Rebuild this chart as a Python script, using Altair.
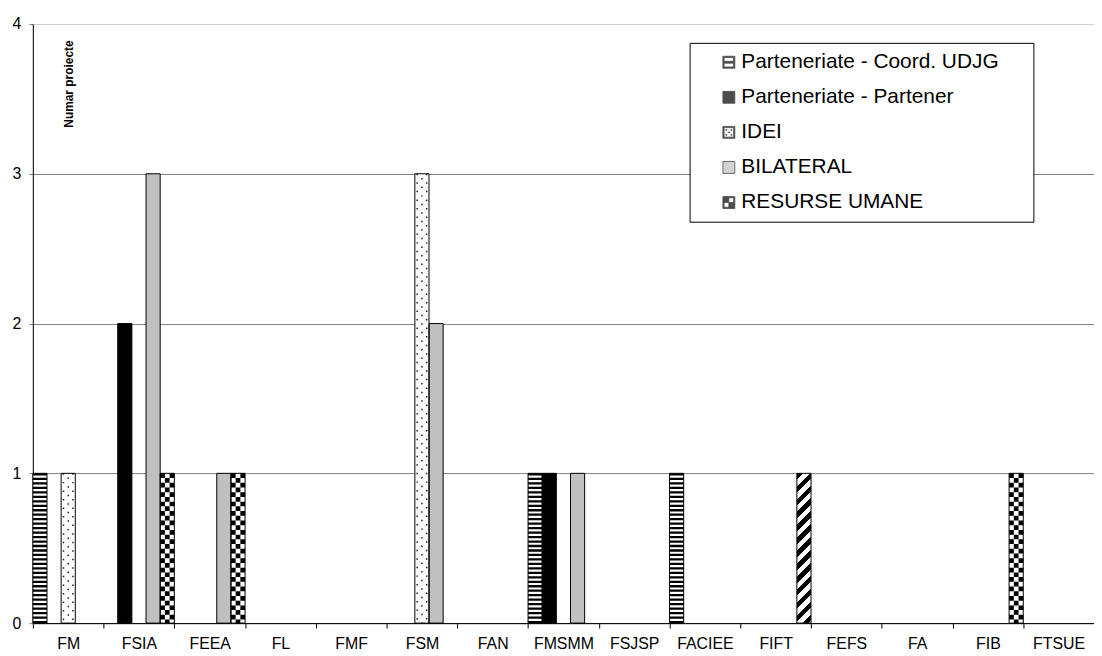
import altair as alt
import pandas as pd

# ---------------- data ----------------
categories = ["FM", "FSIA", "FEEA", "FL", "FMF", "FSM", "FAN", "FMSMM",
              "FSJSP", "FACIEE", "FIFT", "FEFS", "FA", "FIB", "FTSUE"]
series = ["Parteneriate - Coord. UDJG", "Parteneriate - Partener", "IDEI",
          "BILATERAL", "RESURSE UMANE"]

coord_udjg = [1, 0, 0, 0, 0, 0, 0, 1, 0, 1, 0, 0, 0, 0, 0]
partener   = [0, 2, 0, 0, 0, 0, 0, 1, 0, 0, 0, 0, 0, 0, 0]
idei       = [1, 0, 0, 0, 0, 3, 0, 0, 0, 0, 0, 0, 0, 0, 0]
bilateral  = [0, 3, 1, 0, 0, 2, 0, 1, 0, 0, 0, 0, 0, 0, 0]
resurse    = [0, 1, 1, 0, 0, 0, 0, 0, 0, 0, 1, 0, 0, 1, 0]

y_ticks = [0, 1, 2, 3, 4]

# ---------------- styles ----------------
series_pattern = {series[0]: "hstripe", series[1]: "solid", series[2]: "dots",
                  series[3]: "solid", series[4]: "checker"}
pattern_override = {("FIFT", "RESURSE UMANE"): "diag"}
base_fill = ["white", "black", "white", "#c0c0c0", "white"]
legend_color = ["black", "black", "black", "#c0c0c0", "black"]
legend_paths = [
    "M-1,-1H1V1H-1Z M-0.8,-0.8V0.8H0.8V-0.8Z M-0.8,-0.15H0.8V0.15H-0.8Z",
    "M-1,-1H1V1H-1Z",
    "M-1,-1H1V1H-1Z M-0.8,-0.8V0.8H0.8V-0.8Z "
    "M-0.5,-0.5h0.16v0.16h-0.16Z M0.34,-0.5h0.16v0.16h-0.16Z "
    "M-0.08,-0.08h0.16v0.16h-0.16Z M-0.5,0.34h0.16v0.16h-0.16Z "
    "M0.34,0.34h0.16v0.16h-0.16Z",
    "M-1,-1H1V1H-1Z",
    "M-1,-1H1V1H-1Z M-0.8,-0.8V0.8H0.8V-0.8Z "
    "M-0.8,-0.8H0V0H-0.8Z M0,0H0.8V0.8H0Z",
]

FONT = "Liberation Sans"
W, H = 1068, 603
YMAX = 4
NSUB = 3
sw = W / len(categories) / len(series)     # width of one bar
cw = sw / NSUB                              # width of one pattern column
sub_domain = [f"{s}|{c}" for s in series for c in range(NSUB)]

rows = []
for s, vals in zip(series, [coord_udjg, partener, idei, bilateral, resurse]):
    for c, v in zip(categories, vals):
        if v > 0:
            rows.append({"cat": c, "series": s, "value": v,
                         "pattern": pattern_override.get((c, s), series_pattern[s])})
df = pd.DataFrame(rows)

fill_expr = "".join(f"datum.series == '{s}' ? '{f}' : " for s, f in zip(series, base_fill)) + "'white'"

x_enc = alt.X("cat:N", sort=categories,
              scale=alt.Scale(domain=categories, paddingInner=0, paddingOuter=0),
              axis=alt.Axis(title=None, labelFontSize=16, labelColor="black",
                            labelFont=FONT, tickBand="extent", tickSize=5,
                            tickColor="black", domainColor="black",
                            labelPadding=8, labelAngle=0, grid=False))
xo_enc = alt.XOffset("series:N",
                     scale=alt.Scale(domain=series, paddingInner=0, paddingOuter=0))
xo_sub = alt.XOffset("sub:N",
                     scale=alt.Scale(domain=sub_domain, paddingInner=0, paddingOuter=0))
y_enc = alt.Y("value:Q",
              scale=alt.Scale(domain=[0, YMAX], nice=False, zero=True),
              axis=alt.Axis(values=y_ticks, format="d", title="Numar proiecte",
                            titleAngle=270, titleX=40, titleY=16,
                            titleAlign="right", titleBaseline="alphabetic",
                            titleFontSize=12, titleFontWeight="bold",
                            titleFont=FONT, titleColor="black",
                            labelFontSize=16, labelFont=FONT, labelColor="black",
                            labelPadding=8, tickSize=4, tickColor="#808080",
                            domainColor="black", grid=True,
                            gridColor={"condition": {"test": "datum.value == 4",
                                                     "value": "#d0d0d0"},
                                       "value": "#808080"},
                            gridWidth=1))
y2_enc = alt.Y2(datum=0)

base = alt.Chart(df)

fill_layer = base.transform_filter("datum.pattern != 'diag'").transform_calculate(
    fillc=fill_expr).mark_bar(strokeWidth=0).encode(
    x=x_enc, xOffset=xo_enc, y=y_enc,
    fill=alt.Fill("fillc:N", scale=None),
)

# diagonal stripes via a hard-stop gradient (stripes at 45 degrees)
bw, bh = sw, H / YMAX
period = 13.0
tot = bw + bh
stops = []
k = 0
while k * period < tot:
    a = k * period / tot
    b = min((k * period + period / 2) / tot, 1)
    c = min(((k + 1) * period) / tot, 1)
    stops += [{"offset": a, "color": "black"}, {"offset": b, "color": "black"},
              {"offset": b, "color": "white"}, {"offset": c, "color": "white"}]
    k += 1
grad = {"gradient": "linear", "x1": 0, "y1": 0,
        "x2": tot * bw / (bw ** 2 + bh ** 2), "y2": tot * bh / (bw ** 2 + bh ** 2),
        "stops": stops}
diag_layer = base.transform_filter("datum.pattern == 'diag'").mark_bar(
    fill=grad, strokeWidth=0).encode(x=x_enc, xOffset=xo_enc, y=y_enc)

# horizontal stripes: one thick dashed rule per bar
stripe_layer = base.transform_filter("datum.pattern == 'hstripe'").mark_rule(
    color="black", strokeWidth=sw, strokeDash=[2.3, 2.2], strokeCap="butt").encode(
    x=x_enc, xOffset=xo_enc, y=y_enc, y2=y2_enc)


def column_layer(pattern, col, width, dash, dash_off, color="black"):
    return base.transform_filter(f"datum.pattern == '{pattern}'").transform_calculate(
        sub=f"datum.series + '|{col}'").mark_rule(
        color=color, strokeWidth=width, strokeDash=dash, strokeDashOffset=dash_off,
        strokeCap="butt").encode(x=x_enc, xOffset=xo_sub, y=y_enc, y2=y2_enc)


dot_layers = [
    column_layer("dots", 0, 1.5, [1.5, 7.1], 0, "#222222"),
    column_layer("dots", 1, 1.5, [1.5, 7.1], 4.3, "#222222"),
    column_layer("dots", 2, 1.5, [1.5, 7.1], 0, "#222222"),
]
checker_layers = [
    column_layer("checker", 0, cw, [cw, cw], 0),
    column_layer("checker", 1, cw, [cw, cw], cw),
    column_layer("checker", 2, cw, [cw, cw], 0),
]

outline_layer = base.mark_bar(fill="transparent", stroke="black", strokeWidth=1).encode(
    x=x_enc, xOffset=xo_enc, y=y_enc)

legend_layer = base.mark_point(
    filled=True, stroke="black", strokeWidth=0.8, size=0).encode(
    x=x_enc, xOffset=xo_enc, y=y_enc,
    color=alt.Color("series:N",
                    scale=alt.Scale(domain=series, range=legend_color),
                    legend=alt.Legend(orient="none", legendX=661, legendY=19,
                                      title=".", titleOrient="right",
                                      titleColor="transparent", titleFontSize=10,
                                      titlePadding=23,
                                      labelFontSize=21, labelFont=FONT,
                                      labelColor="black", symbolSize=144,
                                      symbolStrokeWidth=0.8, padding=9,
                                      rowPadding=13.3, strokeColor="black",
                                      fillColor="white", symbolOffset=20,
                                      labelOffset=2, labelLimit=600)),
    shape=alt.Shape("series:N", scale=alt.Scale(domain=series, range=legend_paths)),
)

chart = alt.layer(
    fill_layer, diag_layer, stripe_layer, *dot_layers, *checker_layers,
    outline_layer, legend_layer,
).resolve_scale(xOffset="independent").properties(
    width=W, height=H,
    autosize=alt.AutoSizeParams(type="none"),
    padding={"left": 25, "top": 14, "right": 0, "bottom": 30},
).configure_view(stroke=None).configure(font=FONT, background="white")

chart.save("out.html", embed_options={"renderer": "svg", "actions": False})
